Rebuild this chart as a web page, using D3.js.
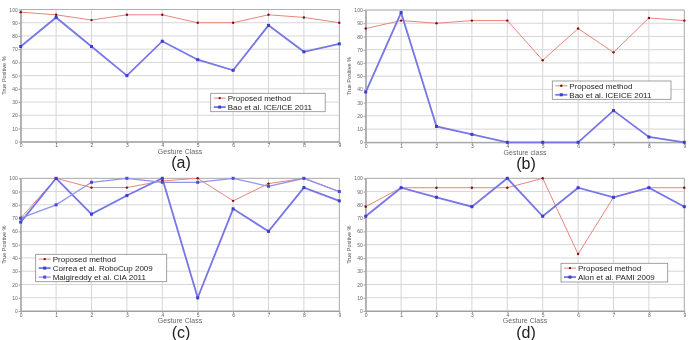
<!DOCTYPE html>
<html>
<head>
<meta charset="utf-8">
<script src="https://cdn.jsdelivr.net/npm/d3@7"></script>
<style>
  body { margin: 0; background: #fff; }
  svg { display: block; font-family: "Liberation Sans", Arial, sans-serif; filter: blur(0.35px); }
</style>
</head>
<body>
<script>
// gesture classes and y ticks
const CLASSES = [0, 1, 2, 3, 4, 5, 6, 7, 8, 9];
const Y_TICKS = [0, 10, 20, 30, 40, 50, 60, 70, 80, 90, 100];

// (a)
const A_PROPOSED = [98, 96, 92, 96, 96, 90, 90, 96, 94, 90];
const A_BAO = [72, 94, 72, 50, 76, 62, 54, 88, 68, 74];
// (b)
const B_PROPOSED = [86, 92, 90, 92, 92, 62, 86, 68, 94, 92];
const B_BAO = [38, 98, 12, 6, 0, 0, 0, 24, 4, 0];
// (c)
const C_PROPOSED = [70, 100, 93, 93, 98, 100, 83, 96, 100, 90];
const C_CORREA = [67, 100, 73, 87, 100, 10, 77, 60, 93, 83];
const C_MALGIREDDY = [70, 80, 97, 100, 97, 97, 100, 94, 100, 90];
// (d)
const D_PROPOSED = [78.6, 92.9, 92.9, 92.9, 92.9, 100, 42.9, 85.7, 92.9, 92.9];
const D_ALON = [71.4, 92.9, 85.7, 78.6, 100, 71.4, 92.9, 85.7, 92.9, 78.6];

const RED = { line: "#e8847c", mark: "#7a1010", width: 1, shape: "dot" };
const BLUE = { line: "#7676e8", mark: "#3d3dc8", width: 1.8, shape: "sq" };
const BLUE2 = { line: "#9191f0", mark: "#4b4bd0", width: 1.3, shape: "sq" };

const panels = [
  { left: 20.7, right: 339.3, top: 9.5, bottom: 141.7, xlab: "Gesture Class", tag: "(a)",
    series: [
      { name: "Proposed method", values: A_PROPOSED, style: RED },
      { name: "Bao et al. ICE/ICE 2011", values: A_BAO, style: BLUE }
    ],
    legend: { x: 210.7, y: 93.3, w: 114.5, h: 18.4 } },
  { left: 365.7, right: 684.3, top: 10, bottom: 142.3, xlab: "Gesture class", tag: "(b)",
    series: [
      { name: "Proposed method", values: B_PROPOSED, style: RED },
      { name: "Bao et al. ICEICE 2011", values: B_BAO, style: BLUE }
    ],
    legend: { x: 552.3, y: 81, w: 118.7, h: 18.3 } },
  { left: 20.7, right: 339.3, top: 178.3, bottom: 311, xlab: "Gesture Class", tag: "(c)",
    series: [
      { name: "Proposed method", values: C_PROPOSED, style: RED },
      { name: "Correa et al. RoboCup 2009", values: C_CORREA, style: BLUE },
      { name: "Malgireddy et al. CIA 2011", values: C_MALGIREDDY, style: BLUE2 }
    ],
    legend: { x: 35.7, y: 254.3, w: 131, h: 27.4 } },
  { left: 365.7, right: 684.3, top: 178.3, bottom: 311, xlab: "Gesture Class", tag: "(d)",
    series: [
      { name: "Proposed method", values: D_PROPOSED, style: RED },
      { name: "Alon et al. PAMI 2009", values: D_ALON, style: BLUE }
    ],
    legend: { x: 561, y: 263.3, w: 106.7, h: 18.7 } }
];

const svg = d3.select("body").append("svg")
  .attr("width", 691)
  .attr("height", 340);

function marker(g, style, x, y) {
  if (style.shape === "dot") {
    g.append("circle").attr("cx", x).attr("cy", y).attr("r", 1.2).attr("fill", style.mark);
  } else {
    g.append("rect").attr("x", x - 1.5).attr("y", y - 1.5).attr("width", 3).attr("height", 3)
      .attr("fill", style.mark);
  }
}

panels.forEach(p => {
  const g = svg.append("g");
  const x = d3.scaleLinear().domain([0, 9]).range([p.left, p.right]);
  const y = d3.scaleLinear().domain([0, 100]).range([p.bottom, p.top]);

  // grid
  g.append("g").selectAll("line").data(CLASSES).join("line")
    .attr("x1", d => x(d)).attr("x2", d => x(d))
    .attr("y1", p.top).attr("y2", p.bottom)
    .attr("stroke", "#d6d6d6").attr("stroke-width", 1);
  g.append("g").selectAll("line").data(Y_TICKS).join("line")
    .attr("x1", p.left).attr("x2", p.right)
    .attr("y1", d => y(d)).attr("y2", d => y(d))
    .attr("stroke", "#d6d6d6").attr("stroke-width", 1);

  // axes
  const xAxis = d3.axisBottom(x).tickValues(CLASSES).tickSize(2).tickPadding(0).tickSizeOuter(0);
  const yAxis = d3.axisLeft(y).tickValues(Y_TICKS).tickSize(2).tickPadding(1).tickSizeOuter(0);
  const gx = g.append("g").attr("transform", `translate(0,${p.bottom})`).call(xAxis);
  const gy = g.append("g").attr("transform", `translate(${p.left},0)`).call(yAxis);
  [gx, gy].forEach(a => {
    a.select(".domain").attr("stroke", "#9a9a9a");
    a.selectAll(".tick line").attr("stroke", "#9a9a9a");
    a.selectAll("text").attr("font-size", 5).attr("fill", "#666").attr("font-family", "Liberation Sans, Arial");
  });

  // frame
  g.append("rect").attr("x", p.left).attr("y", p.top)
    .attr("width", p.right - p.left).attr("height", p.bottom - p.top)
    .attr("fill", "none").attr("stroke", "#a8a8a8").attr("stroke-width", 0.8);

  // labels
  g.append("text").attr("x", (p.left + p.right) / 2).attr("y", p.bottom + 12.3)
    .attr("text-anchor", "middle").attr("font-size", 7).attr("fill", "#666").text(p.xlab);
  g.append("text")
    .attr("transform", `translate(${p.left - 16.5},${(p.top + p.bottom) / 2}) rotate(-90)`)
    .attr("text-anchor", "middle").attr("dy", "0.35em")
    .attr("font-size", 5.5).attr("fill", "#555").text("True Positive %");
  g.append("text").attr("x", (p.left + p.right) / 2 + 1).attr("y", p.bottom + 26.5)
    .attr("text-anchor", "middle").attr("font-size", 16).attr("fill", "#222").text(p.tag);

  // series
  const line = d3.line().x((d, i) => x(CLASSES[i])).y(d => y(d));
  p.series.forEach(s => {
    g.append("path").datum(s.values).attr("d", line)
      .attr("fill", "none").attr("stroke", s.style.line).attr("stroke-width", s.style.width);
  });
  p.series.forEach(s => {
    s.values.forEach((v, i) => marker(g, s.style, x(CLASSES[i]), y(v)));
  });

  // legend
  const L = p.legend;
  const lg = g.append("g");
  lg.append("rect").attr("x", L.x).attr("y", L.y).attr("width", L.w).attr("height", L.h)
    .attr("fill", "#fff").attr("stroke", "#8a8a8a").attr("stroke-width", 0.8);
  p.series.forEach((s, i) => {
    const cy = L.y + 4.8 + 9 * i;
    lg.append("line").attr("x1", L.x + 3).attr("x2", L.x + 15).attr("y1", cy).attr("y2", cy)
      .attr("stroke", s.style.line).attr("stroke-width", s.style.width);
    marker(lg, s.style, L.x + 9, cy);
    lg.append("text").attr("x", L.x + 17).attr("y", cy).attr("dy", "0.35em")
      .attr("font-size", 8).attr("fill", "#222").text(s.name);
  });
});
</script>
</body>
</html>
